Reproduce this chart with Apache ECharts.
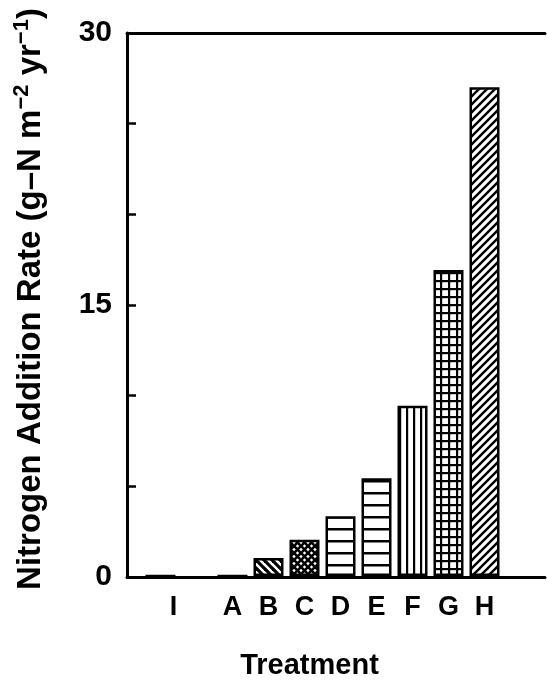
<!DOCTYPE html>
<html>
<head>
<meta charset="utf-8">
<script src="https://cdn.jsdelivr.net/npm/echarts@6/dist/echarts.min.js"></script>
<style>
  html, body { margin: 0; padding: 0; background: #fff; }
  #chart { width: 547px; height: 685px; }
</style>
</head>
<body>
<div id="chart"></div>
<script>
// Treatments (the blank slot separates the control I from the dosed plots)
const categories = ['I', '', 'A', 'B', 'C', 'D', 'E', 'F', 'G', 'H'];
// Nitrogen addition rate, g-N m^-2 yr^-1
const rates = [0, null, 0, 1, 2, 3.3, 5.4, 9.4, 16.9, 27];
// Labelled values on the rate axis
const rateTickLabels = [0, 15, 30];

const FONT = '"Liberation Sans", Arial, Helvetica, sans-serif';

// Builds a repeating black-on-white hatch tile
function hatch(w, h, draw) {
  const c = document.createElement('canvas');
  c.width = w; c.height = h;
  const ctx = c.getContext('2d');
  ctx.fillStyle = '#fff';
  ctx.fillRect(0, 0, w, h);
  ctx.fillStyle = '#000';
  ctx.strokeStyle = '#000';
  ctx.lineCap = 'butt';
  draw(ctx, w, h);
  return { image: c, repeat: 'repeat' };
}
function slash(ctx, s) {          // "/" lines
  for (const o of [-s, 0, s]) {
    ctx.beginPath(); ctx.moveTo(o - 1, s + 1); ctx.lineTo(o + s + 1, -1); ctx.stroke();
  }
}
function backslash(ctx, s) {      // "\" lines
  for (const o of [-s, 0, s]) {
    ctx.beginPath(); ctx.moveTo(o - 1, -1); ctx.lineTo(o + s + 1, s + 1); ctx.stroke();
  }
}

const fills = {
  I: '#fff',
  A: '#fff',
  B: hatch(8, 8, (c, w) => { c.lineWidth = 3.2; backslash(c, w); }),
  C: hatch(7, 7, (c, w) => { c.lineWidth = 2.6; slash(c, w); backslash(c, w); }),
  D: hatch(4, 12, (c, w) => { c.fillRect(0, 0, w, 2.5); }),
  E: hatch(4, 12, (c, w) => { c.fillRect(0, 0, w, 2.5); }),
  F: hatch(7, 4, (c, w, h) => { c.fillRect(0, 0, 2.2, h); }),
  G: hatch(8, 8, (c, w, h) => { c.fillRect(0, 0, 2.2, h); c.fillRect(0, 0, w, 2.2); }),
  H: hatch(8, 8, (c, w) => { c.lineWidth = 2.4; slash(c, w); })
};

const chart = echarts.init(document.getElementById('chart'), null, { renderer: 'canvas' });

const frameLine = { show: true, lineStyle: { color: '#000', width: 3 } };
const hidden = { show: false };

chart.setOption({
  animation: false,
  backgroundColor: '#fff',
  textStyle: { fontFamily: FONT, color: '#000' },
  grid: [
    // frame with the rate axis
    { left: 127, right: 2, top: 33, bottom: 108, containLabel: false },
    // bar band
    { left: 142.5, right: 44.5, top: 33, bottom: 108, containLabel: false }
  ],
  xAxis: [
    { gridIndex: 0, type: 'value', min: 0, max: 1, position: 'bottom',
      axisLine: frameLine, axisTick: hidden, axisLabel: hidden, splitLine: hidden },
    { gridIndex: 0, type: 'value', min: 0, max: 1, position: 'top',
      axisLine: frameLine, axisTick: hidden, axisLabel: hidden, splitLine: hidden },
    { gridIndex: 1, type: 'category', data: categories, position: 'bottom',
      axisLine: hidden, axisTick: hidden, splitLine: hidden,
      axisLabel: {
        show: true, interval: 0, margin: 18,
        fontFamily: FONT, fontWeight: 'bold', fontSize: 27, color: '#000',
        formatter: (v) => v === 'I' ? '{ctrl|I}' : v,
        rich: { ctrl: { fontFamily: FONT, fontWeight: 'bold', fontSize: 27, color: '#000', padding: [0, 0, 0, 26] } }
      },
      name: 'Treatment', nameLocation: 'middle', nameGap: 75,
      nameTextStyle: { fontFamily: FONT, fontWeight: 'bold', fontSize: 29, color: '#000', padding: [0, 26, 0, 0] }
    }
  ],
  yAxis: [
    { gridIndex: 0, type: 'value', min: 0, max: 30, interval: 15,
      axisLine: frameLine,
      axisTick: { show: true, inside: true, length: 9, lineStyle: { color: '#000', width: 2.5 } },
      minorTick: { show: true, splitNumber: 3, length: 9, lineStyle: { color: '#000', width: 2.5 } },
      splitLine: hidden, minorSplitLine: hidden,
      axisLabel: {
        show: true, margin: 15, fontFamily: FONT, fontWeight: 'bold', fontSize: 30, color: '#000',
        formatter: (v) => rateTickLabels.includes(v) ? String(v) : ''
      },
      name: '{t|Nitrogen Addition Rate (g–N m}{s|−2}{t| yr}{s|−1}{t|)}',
      nameLocation: 'middle', nameGap: 76,
      nameTextStyle: {
        padding: [0, 0, 0, 12],
        rich: {
          t: { fontFamily: FONT, fontWeight: 'bold', fontSize: 33, color: '#000', lineHeight: 40 },
          s: { fontFamily: FONT, fontWeight: 'bold', fontSize: 22, color: '#000', verticalAlign: 'top', lineHeight: 40 }
        }
      }
    },
    { gridIndex: 1, type: 'value', min: 0, max: 30, show: false, splitLine: hidden }
  ],
  series: [{
    type: 'bar',
    xAxisIndex: 2,
    yAxisIndex: 1,
    barWidth: 30,
    silent: true,
    data: rates.map((v, i) => ({
      value: v,
      itemStyle: { color: fills[categories[i]] || '#fff', borderColor: '#000', borderWidth: 2.5 }
    })),
    emphasis: { disabled: true }
  }]
});
</script>
</body>
</html>
